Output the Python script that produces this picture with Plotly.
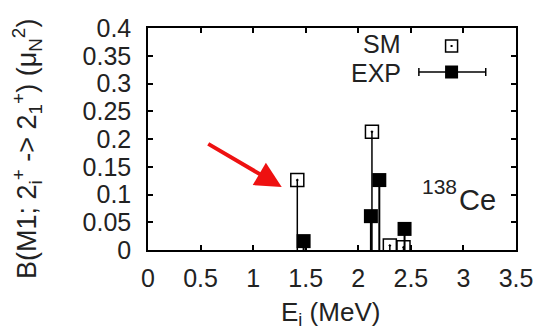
import plotly.graph_objects as go

# ---- data ----
sm_energy = [1.42, 2.13, 2.30, 2.43]
sm_bm1 = [0.126, 0.213, 0.008, 0.005]
exp_energy = [1.48, 2.12, 2.20, 2.44]
exp_bm1 = [0.016, 0.061, 0.126, 0.038]
x_ticks = [0, 0.5, 1, 1.5, 2, 2.5, 3, 3.5]
y_ticks = [0, 0.05, 0.1, 0.15, 0.2, 0.25, 0.3, 0.35, 0.4]

W, H = 545, 332
L, R, T, B = 148, 20, 28, 82
PW, PH = W - L - R, H - T - B

def px(x):
    return (x - L) / PW

def py(y):
    return (H - B - y) / PH

def impulses(xs, ys):
    xx, yy = [], []
    for a, b in zip(xs, ys):
        xx += [a, a, None]
        yy += [0, b, None]
    return xx, yy

FONT = "Liberation Sans, Arial, sans-serif"

fig = go.Figure()
sx, sy = impulses(sm_energy, sm_bm1)
ex, ey = impulses(exp_energy, exp_bm1)
fig.add_trace(go.Scatter(x=sx, y=sy, mode="lines", line=dict(color="black", width=1.5),
                         showlegend=False, hoverinfo="skip"))
fig.add_trace(go.Scatter(x=ex, y=ey, mode="lines", line=dict(color="black", width=2),
                         showlegend=False, hoverinfo="skip"))
fig.add_trace(go.Scatter(x=sm_energy, y=sm_bm1, mode="markers", name="SM",
                         marker=dict(symbol="square-open-dot", size=13, color="black",
                                     line=dict(color="black", width=1.5)),
                         showlegend=False))
fig.add_trace(go.Scatter(x=exp_energy, y=exp_bm1, mode="markers", name="EXP",
                         marker=dict(symbol="square", size=14, color="black"),
                         showlegend=False))

axis_common = dict(showgrid=False, zeroline=False, showline=True, linecolor="black",
                   linewidth=1.5, mirror="ticks", ticks="inside", ticklen=5,
                   tickwidth=1.5, tickcolor="black",
                   tickfont=dict(family=FONT, size=25, color="#222"))
fig.update_xaxes(range=[0, 3.5], tickvals=x_ticks,
                 ticktext=[f"{v:g}" for v in x_ticks], ticklabelstandoff=5, **axis_common)
fig.update_yaxes(range=[0, 0.4], tickvals=y_ticks,
                 ticktext=[f"{v:g}" for v in y_ticks], ticklabelstandoff=10, **axis_common)

shapes = []
# SM legend symbol
shapes.append(dict(type="rect", xref="paper", yref="paper", xsizemode="pixel", ysizemode="pixel",
                   xanchor=px(459), yanchor=py(46), x0=-6, x1=6, y0=-6, y1=6,
                   line=dict(color="black", width=1.5), fillcolor="white"))
shapes.append(dict(type="rect", xref="paper", yref="paper", xsizemode="pixel", ysizemode="pixel",
                   xanchor=px(459), yanchor=py(46), x0=-1, x1=1, y0=-1, y1=1,
                   line=dict(width=0), fillcolor="black"))
# EXP legend symbol
shapes.append(dict(type="line", xref="paper", yref="paper", x0=px(425.5), x1=px(494),
                   y0=py(72), y1=py(72), line=dict(color="black", width=1.5)))
for xe in (425.5, 494):
    shapes.append(dict(type="line", xref="paper", yref="paper", xsizemode="pixel", ysizemode="pixel",
                       xanchor=px(xe), yanchor=py(72), x0=0, x1=0, y0=-4, y1=4,
                       line=dict(color="black", width=1.5)))
shapes.append(dict(type="rect", xref="paper", yref="paper", xsizemode="pixel", ysizemode="pixel",
                   xanchor=px(459), yanchor=py(72), x0=-6.5, x1=6.5, y0=-6.5, y1=6.5,
                   line=dict(width=0), fillcolor="black"))

annotations = [
    dict(text="SM", xref="paper", yref="paper", x=px(409), y=py(44), xanchor="right", yanchor="middle",
         showarrow=False, font=dict(family=FONT, size=25, color="#222")),
    dict(text="EXP", xref="paper", yref="paper", x=px(409), y=py(73), xanchor="right", yanchor="middle",
         showarrow=False, font=dict(family=FONT, size=25, color="#222")),
    dict(text="138", xref="paper", yref="paper", x=px(467), y=py(186), xanchor="right", yanchor="middle",
         showarrow=False, font=dict(family=FONT, size=21, color="#222")),
    dict(text="Ce", xref="paper", yref="paper", x=px(465), y=py(200), xanchor="left", yanchor="middle",
         showarrow=False, font=dict(family=FONT, size=29, color="#222")),
    dict(text="B(M1; 2<sub>i</sub><sup>+</sup> -> 2<sub>1</sub><sup>+</sup>) (μ<sub>N</sub><sup>2</sup>)",
         xref="paper", yref="paper", x=px(24), y=py(149), xanchor="center", yanchor="middle",
         textangle=-90, showarrow=False, font=dict(family=FONT, size=27, color="#222")),
    dict(text="E<sub>i</sub> (MeV)", xref="paper", yref="paper", x=px(335), y=py(313),
         xanchor="center", yanchor="middle", showarrow=False,
         font=dict(family=FONT, size=26, color="#222")),
    dict(text="", xref="paper", yref="paper", x=px(285), y=py(187), ax=210 - 285, ay=143 - 187,
         axref="pixel", ayref="pixel", showarrow=True, arrowhead=2, arrowsize=1.3,
         arrowwidth=4, arrowcolor="#ee1111"),
]

fig.update_layout(width=W, height=H, margin=dict(l=L, r=R, t=T, b=B, pad=0),
                  plot_bgcolor="white", paper_bgcolor="white",
                  shapes=shapes, annotations=annotations, showlegend=False)

fig.write_html("out.html")
